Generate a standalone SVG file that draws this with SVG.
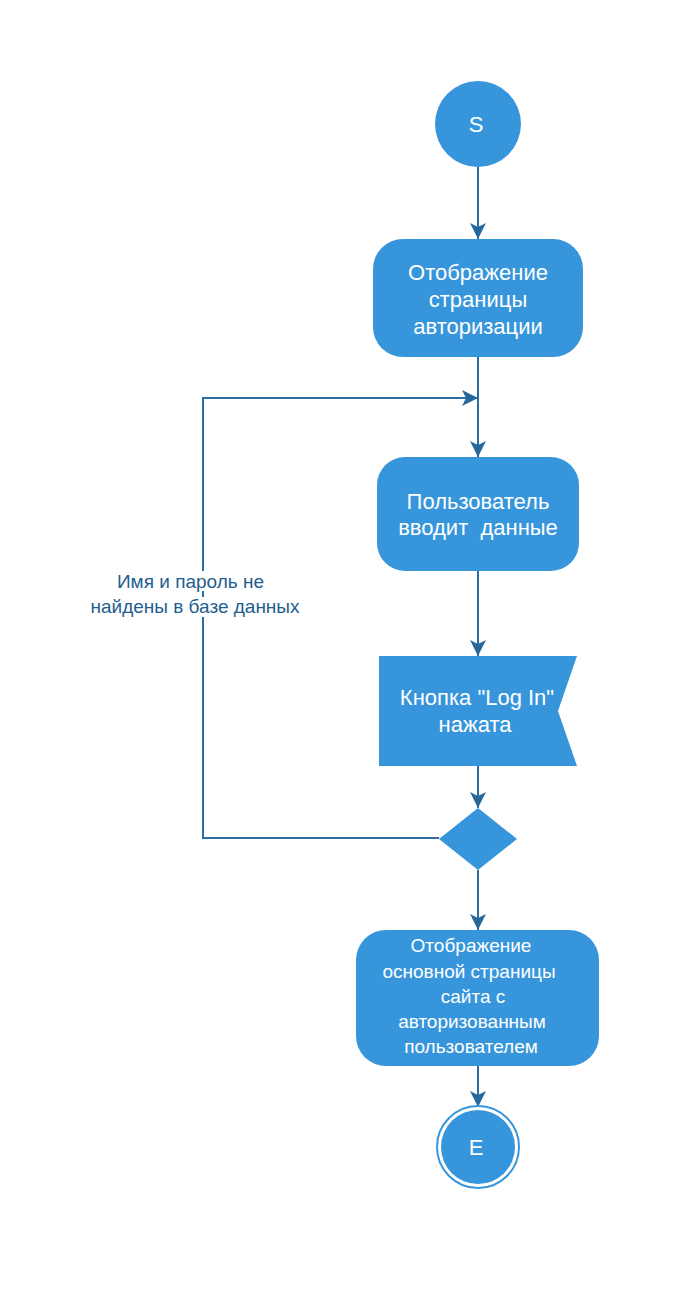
<svg xmlns="http://www.w3.org/2000/svg" width="680" height="1313" viewBox="0 0 680 1313">
<style>
.node{fill:#3796db}
.t{font-family:"Liberation Sans",Arial,sans-serif;fill:#ffffff;text-anchor:middle}
.edge{fill:none;stroke:#2b6ea3;stroke-width:2}
.lbl{font-family:"Liberation Sans",Arial,sans-serif;fill:#1f5e8e;font-size:19px;text-anchor:middle}
</style>
<defs>
<marker id="arr" viewBox="0 0 16 16" refX="16" refY="8" markerWidth="16" markerHeight="16" markerUnits="userSpaceOnUse" orient="auto">
<path d="M0,0 L16,8 L0,16 L4,8 Z" fill="#26689c"/>
</marker>
</defs>
<rect width="680" height="1313" fill="#ffffff"/>
<g id="connectors">
<line class="edge" x1="478" y1="167" x2="478" y2="239" marker-end="url(#arr)"/>
<line class="edge" x1="478" y1="357" x2="478" y2="457" marker-end="url(#arr)"/>
<polyline class="edge" points="439,838 203,838 203,398 478,398" marker-end="url(#arr)"/>
<line class="edge" x1="478" y1="571" x2="478" y2="656" marker-end="url(#arr)"/>
<line class="edge" x1="478" y1="766" x2="478" y2="808" marker-end="url(#arr)"/>
<line class="edge" x1="478" y1="870" x2="478" y2="930" marker-end="url(#arr)"/>
<line class="edge" x1="478" y1="1066" x2="478" y2="1107" marker-end="url(#arr)"/>
<g id="loop-label">
<rect x="113" y="571" width="156" height="20" fill="#ffffff"/>
<rect x="86" y="597" width="219" height="20" fill="#ffffff"/>
<text class="lbl" x="190.5" y="588">Имя и пароль не</text>
<text class="lbl" x="195" y="613">найдены в базе данных</text>
</g>
</g>
<g id="start">
<circle class="node" cx="478" cy="124" r="43"/>
<text class="t" x="476" y="132" font-size="22">S</text>
</g>
<g id="show-login">
<rect class="node" x="373" y="239" width="210" height="118" rx="30"/>
<text class="t" font-size="22"><tspan x="478" y="280">Отображение</tspan><tspan x="478" y="307">страницы</tspan><tspan x="478" y="334">авторизации</tspan></text>
</g>
<g id="user-input">
<rect class="node" x="377" y="457" width="202" height="114" rx="28"/>
<text class="t" font-size="22" xml:space="preserve"><tspan x="478" y="509">Пользователь</tspan><tspan x="478" y="535">вводит  данные</tspan></text>
</g>
<g id="login-button">
<polygon class="node" points="379,656 577,656 558,711 577,766 379,766"/>
<text class="t" font-size="22"><tspan x="477" y="705">Кнопка "Log In"</tspan><tspan x="475" y="732">нажата</tspan></text>
</g>
<g id="decision">
<polygon class="node" points="478,808 517,839 478,870 439,839"/>
</g>
<g id="main-page">
<rect class="node" x="356" y="930" width="243" height="136" rx="30"/>
<text class="t" font-size="19"><tspan x="471" y="952">Отображение</tspan><tspan x="469" y="978">основной страницы</tspan><tspan x="473" y="1003">сайта с</tspan><tspan x="472" y="1028">авторизованным</tspan><tspan x="471" y="1053">пользователем</tspan></text>
</g>
<g id="end">
<circle cx="478" cy="1147" r="41" fill="none" stroke="#3796db" stroke-width="2"/>
<circle class="node" cx="478" cy="1147" r="37"/>
<text class="t" x="476" y="1155" font-size="22">E</text>
</g>
</svg>
